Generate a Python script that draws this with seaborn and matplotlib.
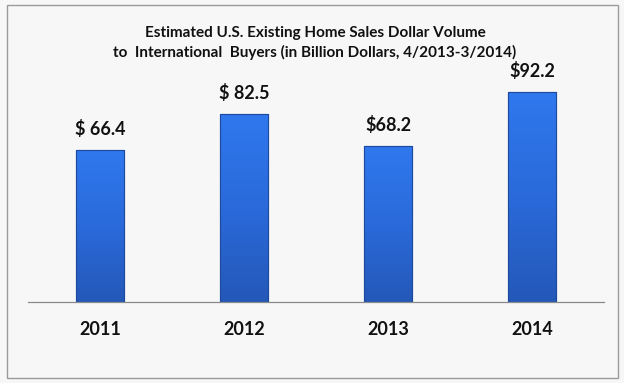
import numpy as np
import pandas as pd
import matplotlib
matplotlib.use("Agg")
import matplotlib.pyplot as plt
from matplotlib.patches import Rectangle
import seaborn as sns

years = ["2011", "2012", "2013", "2014"]
volumes = [66.4, 82.5, 68.2, 92.2]
value_labels = ["$ 66.4", "$ 82.5", "$68.2", "$92.2"]
title_text = ("Estimated U.S. Existing Home Sales Dollar Volume\n"
              "to  International  Buyers (in Billion Dollars, 4/2013-3/2014)")


def main():
    sns.set_style("white")
    plt.rcParams["font.family"] = ["Lato", "DejaVu Sans"]

    data = pd.DataFrame({"year": years, "volume": volumes})

    fig = plt.figure(figsize=(6.24, 3.83), dpi=100, facecolor="#f7f7f7")
    ax = fig.add_axes([0.045, 0.2115, 0.923, 0.737])
    ax.set_facecolor("#f7f7f7")

    sns.barplot(data=data, x="year", y="volume", ax=ax, width=0.333,
                color="#2a66d6", edgecolor="#1d4a9c", linewidth=0.8)

    # vertical gradient on each bar
    grad = np.linspace(0, 1, 256).reshape(-1, 1)
    cmap = matplotlib.colors.LinearSegmentedColormap.from_list(
        "bar", ["#2458b8", "#2a6ada", "#2f78ee"])
    for p in ax.patches:
        x0, y0 = p.get_x(), p.get_y()
        w, h = p.get_width(), p.get_height()
        im = ax.imshow(grad, extent=[x0, x0 + w, y0, y0 + h], origin="lower",
                       cmap=cmap, aspect="auto", zorder=p.get_zorder() + 0.1)
        im.set_clip_path(p)
        ax.add_patch(Rectangle((x0, y0), w, h, fill=False,
                               edgecolor="#1d4a9c", linewidth=0.8,
                               zorder=p.get_zorder() + 0.2))

    for i, (v, lab) in enumerate(zip(volumes, value_labels)):
        ax.text(i, v + 5.3, lab, ha="center", va="bottom",
                fontsize=13, fontweight="bold", color="#111111")

    ax.set_xlim(-0.5, 3.5)
    ax.set_ylim(0, 123.7)
    ax.set_xlabel("")
    ax.set_ylabel("")
    ax.set_yticks([])
    ax.tick_params(axis="x", length=0, pad=14)
    for t in ax.get_xticklabels():
        t.set_fontsize(13)
        t.set_fontweight("bold")
        t.set_color("#111111")
    for s in ["top", "left", "right"]:
        ax.spines[s].set_visible(False)
    ax.spines["bottom"].set_color("#8a8a8a")
    ax.spines["bottom"].set_linewidth(0.9)

    fig.text(0.505, 0.887, title_text, ha="center", va="center",
             fontsize=11, fontweight="bold", color="#111111",
             linespacing=1.4)

    fig.patches.append(Rectangle((0.012, 0.014), 0.978, 0.972,
                                 transform=fig.transFigure, fill=False,
                                 edgecolor="#9a9a9a", linewidth=1.0))

    fig.savefig("out.png", dpi=100, facecolor=fig.get_facecolor())


if __name__ == "__main__":
    main()
